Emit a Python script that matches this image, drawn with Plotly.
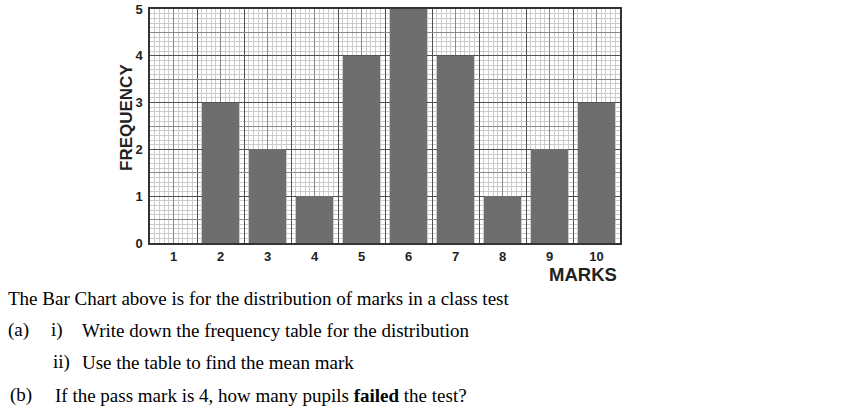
import plotly.graph_objects as go

marks = [1, 2, 3, 4, 5, 6, 7, 8, 9, 10]
frequency = [0, 3, 2, 1, 4, 5, 4, 1, 2, 3]
y_ticks = [0, 1, 2, 3, 4, 5]

W, H = 852, 407
L, R, T, B = 150, 620, 9, 243
pw, ph = R - L, B - T

def px(x):
    return (x - L) / pw

def py(y):
    return (B - y) / ph

fig = go.Figure()
fig.add_trace(go.Bar(x=marks, y=frequency, width=0.78,
                     marker=dict(color="#6e6e6e", line=dict(width=0)),
                     showlegend=False, hoverinfo="x+y"))
fig.add_trace(go.Scatter(x=[], y=[], xaxis="x2", yaxis="y2", showlegend=False))

tickfont = dict(family="Liberation Sans, Arial", size=13, color="#222", weight="bold")
fine = dict(showgrid=True, gridcolor="#cccccc", gridwidth=0.6, dtick=0.1, ticklen=0)

fig.update_layout(
    width=W, height=H,
    margin=dict(l=L, r=W - R, t=T, b=H - B, autoexpand=False),
    plot_bgcolor="white", paper_bgcolor="white",
    bargap=0,
    xaxis=dict(range=[0.5, 10.5], tickvals=marks, ticktext=[str(m) for m in marks],
               showgrid=True, gridcolor="#8a8a8a", gridwidth=1,
               minor=dict(fine, tick0=0.5), automargin=False,
               ticks="", tickfont=tickfont, ticklabelstandoff=1,
               showline=True, linecolor="#333", linewidth=1.5, mirror=True,
               zeroline=False, fixedrange=True),
    yaxis=dict(range=[0, 5], tickvals=y_ticks, ticktext=[str(v) for v in y_ticks],
               showgrid=True, gridcolor="#505050", gridwidth=1.3,
               minor=dict(fine, tick0=0), automargin=False,
               ticks="", tickfont=tickfont, ticklabelstandoff=3,
               showline=True, linecolor="#333", linewidth=1.5, mirror=True,
               zeroline=False, fixedrange=True),
    xaxis2=dict(range=[0.5, 10.5], overlaying="x", anchor="y2", tick0=0.5, dtick=1,
                showgrid=True, gridcolor="#505050", gridwidth=1.3, automargin=False,
                showticklabels=False, ticks="", zeroline=False, fixedrange=True),
    yaxis2=dict(range=[0, 5], overlaying="y", anchor="x2", tick0=0.5, dtick=1,
                showgrid=True, gridcolor="#8a8a8a", gridwidth=1, automargin=False,
                showticklabels=False, ticks="", zeroline=False, fixedrange=True),
)

fig.add_annotation(text="MARKS", xref="paper", yref="paper", x=px(619), y=py(274),
                   xanchor="right", yanchor="middle", showarrow=False,
                   font=dict(family="Liberation Sans, Arial", size=18.5, color="#222", weight="bold"))
fig.add_annotation(text="FREQUENCY", xref="paper", yref="paper", x=px(126), y=py(118),
                   xanchor="center", yanchor="middle", textangle=-90, showarrow=False,
                   font=dict(family="Liberation Sans, Arial", size=17, color="#222", weight="bold"))

serif = dict(family="Liberation Serif, Times New Roman", size=19, color="black")
lines = [
    (6, 298, "The Bar Chart above is for the distribution of marks in a class test"),
    (6, 330, "(a)"), (49, 330, "i)"), (80, 330, "Write down the frequency table for the distribution"),
    (51, 362, "ii)"), (80, 362, "Use the table to find the mean mark"),
    (8, 395, "(b)"), (53, 395, "If the pass mark is 4, how many pupils <b>failed</b> the test?"),
]
for x, y, t in lines:
    fig.add_annotation(text=t, xref="paper", yref="paper", x=px(x), y=py(y),
                       xanchor="left", yanchor="middle", showarrow=False, font=serif)

fig.write_html("out.html")
